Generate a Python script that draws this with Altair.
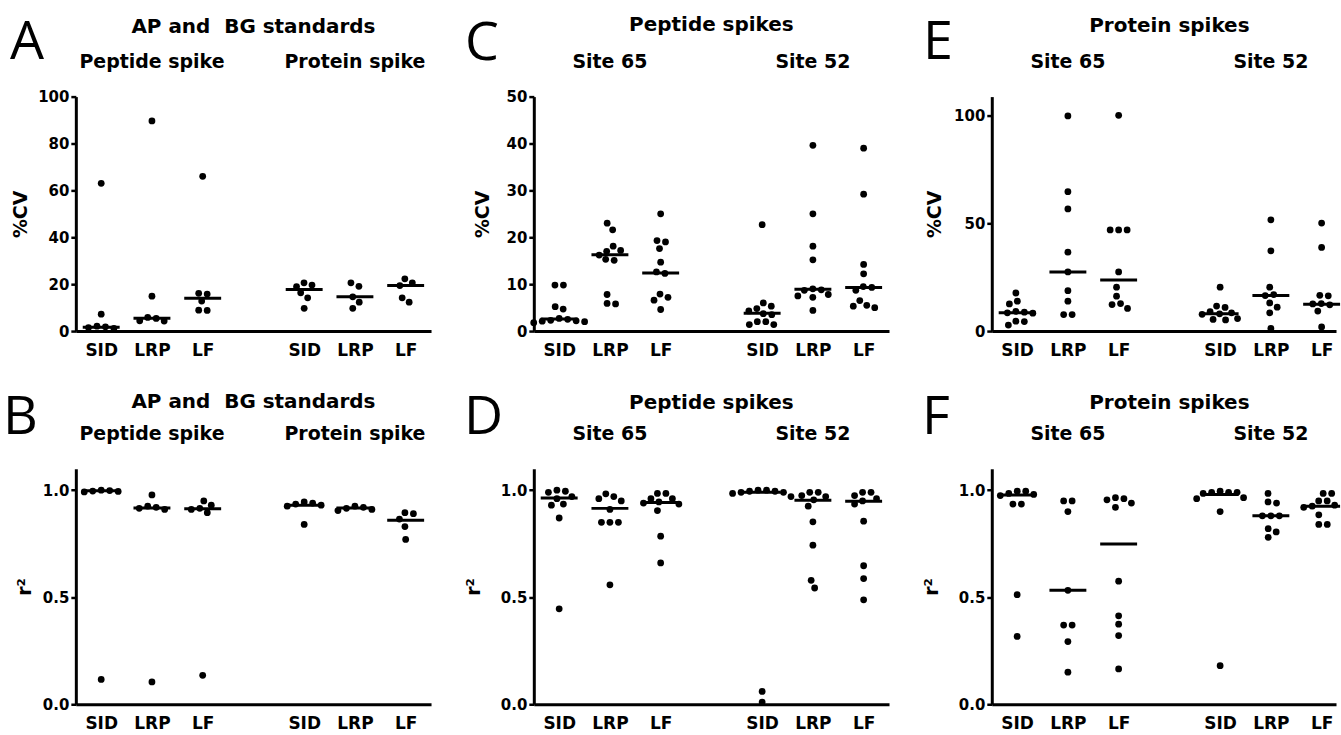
import altair as alt
import pandas as pd

# ---------------- data ----------------
CATS = ["SID", "LRP", "LF"]
POS = [1, 2, 3, 5, 6, 7]  # SID LRP LF | gap | SID LRP LF

# Panel A: %CV, AP and BG standards (peptide spike | protein spike)
a_pep_sid = [63.0, 7.2, 2.1, 1.8, 1.5, 1.2]
a_pep_lrp = [89.6, 14.9, 5.8, 5.4, 4.4, 4.3]
a_pep_lf = [66.0, 16.1, 15.8, 12.8, 8.9, 8.8]
a_pro_sid = [20.6, 19.6, 19.0, 16.3, 14.2, 9.7]
a_pro_lrp = [20.6, 19.1, 14.6, 12.3, 9.7]
a_pro_lf = [22.3, 20.6, 19.4, 14.2, 12.3]
a_med = [1.6, 5.5, 14.0, 17.7, 14.6, 19.4]

# Panel B: r2, AP and BG standards
b_pep_sid = [1.0, 0.998, 0.996, 0.994, 0.992, 0.116]
b_pep_lrp = [0.978, 0.925, 0.92, 0.915, 0.91, 0.104]
b_pep_lf = [0.95, 0.93, 0.915, 0.91, 0.895, 0.135]
b_pro_sid = [0.945, 0.94, 0.935, 0.93, 0.925, 0.84]
b_pro_lrp = [0.925, 0.92, 0.915, 0.91, 0.905]
b_pro_lf = [0.895, 0.89, 0.865, 0.83, 0.77]
b_med = [0.997, 0.917, 0.913, 0.93, 0.917, 0.86]

# Panel C: %CV, peptide spikes (site 65 | site 52)
c_s65_sid = [9.8, 9.8, 5.2, 4.7, 2.7, 2.5, 2.3, 2.2, 2.1, 2.0, 1.8]
c_s65_lrp = [23.0, 21.6, 18.1, 17.2, 17.0, 16.2, 15.3, 15.1, 7.8, 5.9, 5.8]
c_s65_lf = [25.0, 19.3, 19.0, 17.6, 14.7, 12.6, 12.3, 7.9, 7.2, 6.6, 4.6]
c_s52_sid = [22.7, 6.0, 5.3, 4.8, 4.3, 3.7, 3.5, 2.0, 2.0, 1.4, 1.4]
c_s52_lrp = [39.6, 25.0, 18.1, 15.2, 9.0, 8.8, 8.7, 7.8, 7.5, 7.2, 4.4]
c_s52_lf = [39.0, 29.2, 14.2, 12.2, 9.5, 9.3, 8.7, 6.5, 5.5, 5.3, 5.0]
c_med = [2.6, 16.3, 12.4, 3.8, 8.9, 9.3]

# Panel D: r2, peptide spikes
d_s65_sid = [1.0, 0.995, 0.99, 0.97, 0.96, 0.935, 0.93, 0.87, 0.446]
d_s65_lrp = [0.983, 0.97, 0.96, 0.95, 0.91, 0.85, 0.85, 0.85, 0.558]
d_s65_lf = [0.985, 0.985, 0.96, 0.96, 0.945, 0.94, 0.935, 0.905, 0.785, 0.66]
d_s52_sid = [1.0, 1.0, 0.995, 0.995, 0.99, 0.99, 0.985, 0.97, 0.06, 0.01]
d_s52_lrp = [0.99, 0.99, 0.975, 0.97, 0.955, 0.925, 0.852, 0.743, 0.579, 0.543]
d_s52_lf = [0.99, 0.99, 0.975, 0.96, 0.95, 0.935, 0.855, 0.647, 0.587, 0.488]
d_med = [0.964, 0.915, 0.942, 0.99, 0.953, 0.948]

# Panel E: %CV, protein spikes
e_s65_sid = [17.7, 13.9, 12.6, 9.2, 8.8, 8.5, 8.3, 4.6, 4.4, 2.8]
e_s65_lrp = [100.0, 64.8, 56.8, 36.7, 27.5, 18.8, 13.9, 7.7, 7.7]
e_s65_lf = [100.3, 47.0, 47.0, 47.0, 27.5, 20.4, 16.2, 12.8, 12.3, 10.5]
e_s52_sid = [20.4, 11.6, 11.0, 9.0, 8.5, 8.0, 7.8, 5.8, 5.4, 5.2]
e_s52_lrp = [51.7, 37.3, 20.4, 17.0, 16.5, 13.1, 11.1, 8.5, 1.2]
e_s52_lf = [50.2, 38.9, 16.6, 16.4, 12.8, 12.6, 12.2, 9.3, 1.9]
e_med = [8.5, 27.5, 23.8, 8.0, 16.5, 12.5]

# Panel F: r2, protein spikes
f_s65_sid = [0.995, 0.995, 0.985, 0.98, 0.975, 0.935, 0.935, 0.512, 0.317]
f_s65_lrp = [0.95, 0.95, 0.90, 0.532, 0.37, 0.37, 0.293, 0.15]
f_s65_lf = [0.965, 0.96, 0.955, 0.94, 0.92, 0.575, 0.413, 0.374, 0.321, 0.165]
f_s52_sid = [0.995, 0.99, 0.99, 0.99, 0.985, 0.965, 0.96, 0.90, 0.18]
f_s52_lrp = [0.985, 0.945, 0.94, 0.88, 0.88, 0.88, 0.82, 0.805, 0.78]
f_s52_lf = [0.985, 0.985, 0.95, 0.95, 0.93, 0.925, 0.92, 0.885, 0.84, 0.84]
f_med = [0.977, 0.532, 0.749, 0.98, 0.881, 0.925]

STD_TITLE = "AP and\u00a0 BG standards"
STD_HEADERS = ["Peptide spike", "Protein spike"]
SITE_HEADERS = ["Site 65", "Site 52"]

# ---------------- layout helpers ----------------
UNIT = 356 / 7.0  # pixels per category slot
BOLD = "DejaVu Sans"


def swarm(vals, ypx, xpx, d=8.3):
    """Simple beeswarm: horizontal offsets (in x-units) so dots do not collide."""
    n = len(vals)
    order = sorted(range(n), key=lambda i: -vals[i])
    placed = {}
    for i in order:
        y = vals[i] * ypx
        c = 0.0
        for k in range(0, 400):
            c = ((k + 1) // 2) * (1 if k % 2 else -1) * 0.5
            if all((c - px) ** 2 + (y - py) ** 2 >= d * d for px, py in placed.values()):
                break
        placed[i] = (c, y)
    parent = {i: i for i in placed}

    def find(a):
        while parent[a] != a:
            a = parent[a]
        return a

    ids = list(placed)
    for i in ids:
        for j in ids:
            if i < j:
                (xi, yi), (xj, yj) = placed[i], placed[j]
                if (xi - xj) ** 2 + (yi - yj) ** 2 < (d + 1.5) ** 2:
                    parent[find(i)] = find(j)
    comps = {}
    for i in ids:
        comps.setdefault(find(i), []).append(i)
    offs = [0.0] * n
    for members in comps.values():
        mx = sum(placed[m][0] for m in members) / len(members)
        for m in members:
            offs[m] = (placed[m][0] - mx) / xpx
    return offs


label_expr = "[" + ",".join(["''"] + ["'%s'" % c for c in CATS] + ["''"] + ["'%s'" % c for c in CATS]) + "][datum.value]"


def panel(letter, letter_x, letter_y, title, title_y, headers, groups, medians,
          ymax, yvals, yfmt, ytitle, ytitle_x, width, height):
    xmax = 0.5 + width / UNIT
    ypx = height / ymax
    rows = []
    for p, vals in zip(POS, groups):
        offs = swarm(vals, ypx, UNIT)
        for v, o in zip(vals, offs):
            rows.append({"x": p + o, "y": v})
    dots = pd.DataFrame(rows)
    med = pd.DataFrame({"x": POS, "y": medians})
    hdr = pd.DataFrame({"x": [2, 6], "label": headers})

    xscale = alt.Scale(domain=[0.5, xmax], nice=False, zero=False)
    yscale = alt.Scale(domain=[0, ymax], nice=False, zero=True)
    xaxis = alt.Axis(values=POS, labelExpr=label_expr, title=None, grid=False,
                     ticks=False, tickSize=0, domainColor="black", domainWidth=3,
                     labelFont=BOLD, labelFontSize=17, labelFontWeight="bold",
                     labelColor="black", labelPadding=11, labelFlush=False,
                     labelOverlap=False)
    yaxis = alt.Axis(values=yvals, format=yfmt, title=ytitle, titleX=ytitle_x,
                     titleY=height / 2, titleAngle=270, titleAlign="center",
                     titleBaseline="middle", titleFont=BOLD, titleFontSize=19,
                     titleFontWeight="bold", titleColor="black", grid=False,
                     domainColor="black", domainWidth=3, tickColor="black",
                     tickWidth=2.5, tickSize=5, labelFont=BOLD, labelFontSize=15,
                     labelFontWeight="bold", labelColor="black", labelPadding=2,
                     labelOverlap=False, labelFlush=False)
    X = alt.X("x:Q", scale=xscale, axis=xaxis)
    Y = alt.Y("y:Q", scale=yscale, axis=yaxis)

    pts = alt.Chart(dots).mark_circle(size=46, color="black", opacity=1).encode(x=X, y=Y)
    mline = alt.Chart(med).mark_tick(orient="horizontal", size=37, thickness=3,
                                     color="black", opacity=1).encode(x=X, y=Y)
    heads = alt.Chart(hdr).mark_text(font=BOLD, fontSize=19, fontWeight="bold",
                                     align="center", baseline="alphabetic",
                                     color="black").encode(
        x=X, y=alt.value(-28.5), text="label:N")
    ttl = alt.Chart(pd.DataFrame({"t": [title]})).mark_text(
        font=BOLD, fontSize=20, fontWeight="bold", align="center",
        baseline="alphabetic", color="black").encode(
        x=alt.value(178), y=alt.value(title_y), text="t:N")
    let = alt.Chart(pd.DataFrame({"t": [letter]})).mark_text(
        font="Open Sans", fontSize=54, fontWeight="normal", align="left",
        baseline="alphabetic", color="black").encode(
        x=alt.value(letter_x), y=alt.value(letter_y), text="t:N")
    return alt.layer(pts, mline, heads, ttl, let).properties(width=width, height=height)


CV = "%CV"
R2 = "r\u00b2"
pA = panel("A", -66, -38, STD_TITLE, -63.5, STD_HEADERS,
           [a_pep_sid, a_pep_lrp, a_pep_lf, a_pro_sid, a_pro_lrp, a_pro_lf], a_med,
           100, [0, 20, 40, 60, 80, 100], "d", CV, -55.8, 356, 235)
pC = panel("C", -69, -37, "Peptide spikes", -65.5, SITE_HEADERS,
           [c_s65_sid, c_s65_lrp, c_s65_lf, c_s52_sid, c_s52_lrp, c_s52_lf], c_med,
           50, [0, 10, 20, 30, 40, 50], "d", CV, -51.7, 356, 235)
pE = panel("E", -69, -38, "Protein spikes", -64.5, SITE_HEADERS,
           [e_s65_sid, e_s65_lrp, e_s65_lf, e_s52_sid, e_s52_lrp, e_s52_lf], e_med,
           109, [0, 50, 100], "d", CV, -57.7, 345, 235)
pB = panel("B", -73, -35, STD_TITLE, -60.5, STD_HEADERS,
           [b_pep_sid, b_pep_lrp, b_pep_lf, b_pro_sid, b_pro_lrp, b_pro_lf], b_med,
           1.1, [0, 0.5, 1.0], ".1f", R2, -51.6, 356, 236)
pD = panel("D", -70, -35, "Peptide spikes", -60, SITE_HEADERS,
           [d_s65_sid, d_s65_lrp, d_s65_lf, d_s52_sid, d_s52_lrp, d_s52_lf], d_med,
           1.1, [0, 0.5, 1.0], ".1f", R2, -60, 356, 236)
pF = panel("F", -70, -35, "Protein spikes", -60, SITE_HEADERS,
           [f_s65_sid, f_s65_lrp, f_s65_lf, f_s52_sid, f_s52_lrp, f_s52_lf], f_med,
           1.1, [0, 0.5, 1.0], ".1f", R2, -60, 345, 236)

chart = (
    alt.concat(pA, pC, pE, pB, pD, pF, columns=3, bounds="flush",
               spacing={"row": 138, "column": 103})
    .properties(padding={"left": 3, "top": 14, "right": 0, "bottom": 0},
                background="white")
    .configure(font=BOLD)
    .configure_view(stroke="transparent", strokeWidth=0)
)

chart.save("out.html", embed_options={"renderer": "svg", "actions": False})
